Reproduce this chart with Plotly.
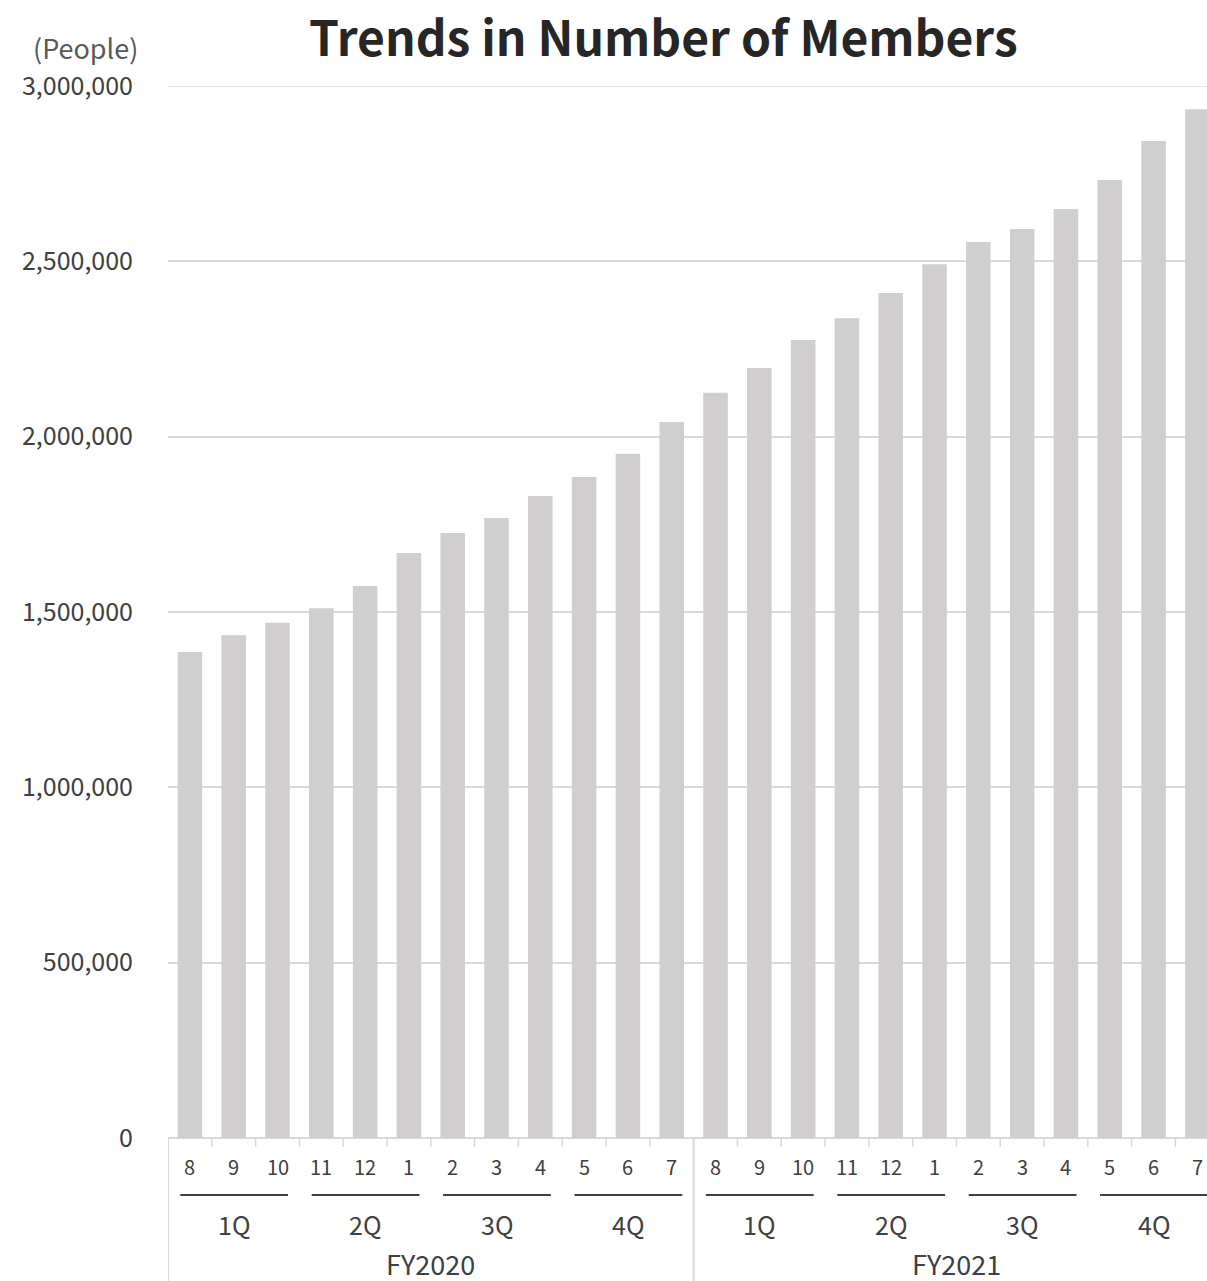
import plotly.graph_objects as go

# Monthly member counts, Aug FY2020 through Jul FY2021
months = ["8", "9", "10", "11", "12", "1", "2", "3", "4", "5", "6", "7",
          "8", "9", "10", "11", "12", "1", "2", "3", "4", "5", "6", "7"]
members = [1386000, 1434000, 1469000, 1511000, 1574000, 1668000,
           1725000, 1768000, 1831000, 1885000, 1951000, 2042000,
           2125000, 2196000, 2276000, 2338000, 2410000, 2492000,
           2555000, 2592000, 2649000, 2732000, 2843000, 2934000]
quarters = ["1Q", "2Q", "3Q", "4Q", "1Q", "2Q", "3Q", "4Q"]
fiscal_years = ["FY2020", "FY2021"]
y_ticks = [0, 500000, 1000000, 1500000, 2000000, 2500000, 3000000]

W, H = 1207, 1281
L, T, B = 168, 86, 143
PLOT_H = H - T - B
PLOT_W = W - L

FONT = "Noto Sans CJK JP"
TXT = "#404040"
GRID = "#d9d9d9"


def py(pixel):
    """Pixel row -> paper y."""
    return (H - B - pixel) / PLOT_H


def px(pixel):
    """Pixel column -> paper x."""
    return (pixel - L) / PLOT_W


def label(x, y, text, size, xref="x", color=TXT, **kw):
    return dict(x=x, y=y, xref=xref, yref="paper", text=text, showarrow=False,
                xanchor="center", yanchor="middle",
                font=dict(family=FONT, size=size, color=color), **kw)


x_idx = list(range(len(months)))

fig = go.Figure(go.Bar(
    x=x_idx, y=members,
    marker=dict(color="#d0cecf", line=dict(width=0)),
    hoverinfo="y",
))

annotations = []
shapes = []

# Top gridline (sits on the plot edge)
shapes.append(dict(type="line", xref="paper", yref="y", x0=0, x1=1,
                   y0=y_ticks[-1], y1=y_ticks[-1], layer="below",
                   line=dict(color=GRID, width=1.5)))

# Month labels
for i, m in enumerate(months):
    annotations.append(label(i, py(1166), m, 20))

# Tick marks at category boundaries
for i in range(len(months) + 1):
    shapes.append(dict(type="line", xref="x", yref="paper", x0=i - 0.5, x1=i - 0.5,
                       y0=0, y1=py(1147), line=dict(color=GRID, width=1.5)))

# Quarter underline and label
for q, name in enumerate(quarters):
    c = q * 3 + 1
    shapes.append(dict(type="line", xref="x", yref="paper", x0=c - 1.22, x1=c + 1.24,
                       y0=py(1195), y1=py(1195), line=dict(color=TXT, width=2)))
    annotations.append(label(c, py(1224), name, 25))

# Fiscal year labels and group separators
for f, name in enumerate(fiscal_years):
    annotations.append(label(f * 12 + 5.5, py(1263), name, 27, height=32, valign="middle"))
for xb in (-0.5, 11.5):
    shapes.append(dict(type="line", xref="x", yref="paper", x0=xb, x1=xb,
                       y0=0, y1=py(H + 5), line=dict(color=GRID, width=2)))

# Unit label and title
annotations.append(label(px(85), py(48), "(People)", 27, xref="paper", color="#595959"))
annotations.append(label(px(663), py(35), "<b>Trends in Number of Members</b>", 48,
                         xref="paper", color="#262626"))

fig.update_layout(
    width=W, height=H,
    margin=dict(l=L, r=0, t=T, b=B, pad=0),
    paper_bgcolor="white", plot_bgcolor="white",
    bargap=0.44,
    showlegend=False,
    annotations=annotations,
    shapes=shapes,
    xaxis=dict(range=[-0.5, 23.22], showticklabels=False, showgrid=False,
               zeroline=False, showline=False, ticks=""),
    yaxis=dict(range=[0, 3000000], tickvals=y_ticks,
               ticktext=[f"{v:,}" for v in y_ticks],
               showgrid=True, gridcolor=GRID, gridwidth=1.5,
               zeroline=True, zerolinecolor=GRID, zerolinewidth=1.5,
               showline=False, ticks="", ticklabelstandoff=34,
               tickfont=dict(family=FONT, size=25, color=TXT)),
)

fig.write_html("out.html")
